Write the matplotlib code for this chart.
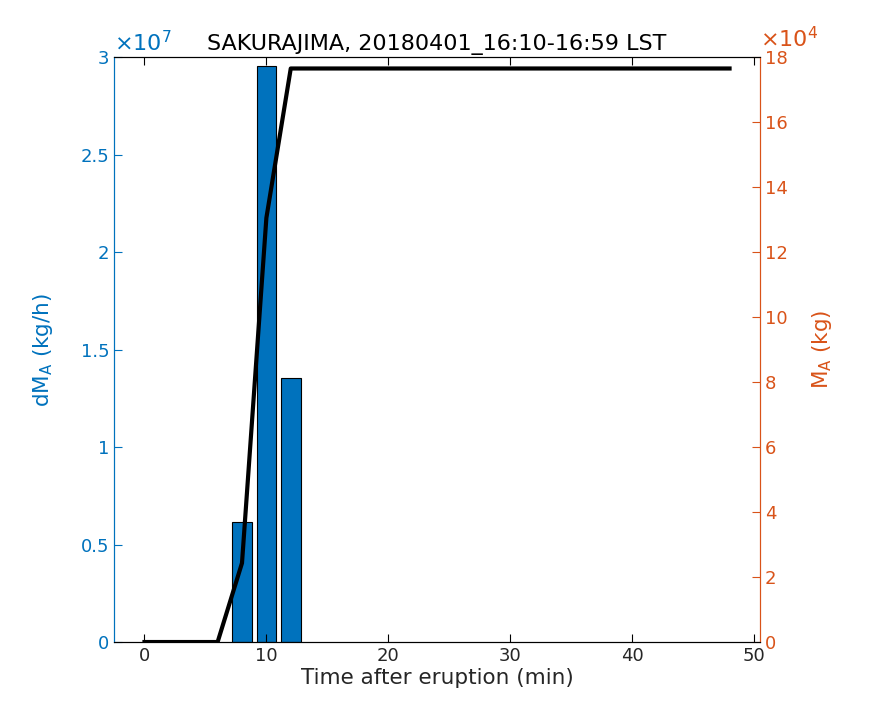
import matplotlib
matplotlib.use("Agg")
import matplotlib.pyplot as plt

plt.rcParams['font.family'] = ['DejaVu Sans']
plt.rcParams['mathtext.fontset'] = 'dejavusans'
plt.rcParams['mathtext.default'] = 'regular'

# data
bar_time = [8, 10, 12]
bar_rate = [0.615e7, 2.954e7, 1.355e7]          # dM_A (kg/h)
cum_time = [0, 2, 4, 6, 8, 10, 12, 14, 16, 18, 20, 22, 24, 26, 28, 30,
            32, 34, 36, 38, 40, 42, 44, 46, 48]
cum_mass = [0, 0, 0, 0, 2.43e4, 13.05e4, 17.65e4, 17.65e4, 17.65e4, 17.65e4,
            17.65e4, 17.65e4, 17.65e4, 17.65e4, 17.65e4, 17.65e4, 17.65e4,
            17.65e4, 17.65e4, 17.65e4, 17.65e4, 17.65e4, 17.65e4, 17.65e4, 17.65e4]

blue = '#0072BD'
orange = '#D95319'

fig = plt.figure(figsize=(8.75, 7.23), dpi=100)
ax = fig.add_axes([0.1303, 0.112, 0.7383, 0.809])
ax2 = ax.twinx()

ax.bar(bar_time, bar_rate, width=1.6, color=blue, edgecolor='black', linewidth=0.8)
ax2.plot(cum_time, cum_mass, color='black', linewidth=3)

ax.set_xlim(-2.5, 50.5)
ax.set_ylim(0, 3e7)
ax2.set_ylim(0, 18e4)
ax.set_xticks([0, 10, 20, 30, 40, 50])
ax.set_yticks([0, 0.5e7, 1e7, 1.5e7, 2e7, 2.5e7, 3e7])
ax.set_yticklabels(['0', '0.5', '1', '1.5', '2', '2.5', '3'])
ax2.set_yticks(range(0, 180001, 20000))
ax2.set_yticklabels([str(v) for v in range(0, 19, 2)])

ax.tick_params(axis='x', direction='in', top=True, labelsize=13, length=6, color='black',
               labelcolor='#262626')
ax.tick_params(axis='y', direction='in', labelsize=13, length=6, colors=blue)
ax2.tick_params(axis='y', direction='in', labelsize=13, length=6, colors=orange)

for a in (ax, ax2):
    a.spines['left'].set_color(blue)
    a.spines['right'].set_color(orange)
    a.spines['top'].set_color('black')
    a.spines['bottom'].set_color('black')

ax.set_xlabel('Time after eruption (min)', fontsize=15.5, color='#262626', labelpad=2)
ax.set_ylabel('dM$_A$ (kg/h)', fontsize=15.5, color=blue, labelpad=18)
ax2.set_ylabel('M$_A$ (kg)', fontsize=15.5, color=orange, rotation=90, labelpad=16)
ax.set_title('SAKURAJIMA, 20180401_16:10-16:59 LST', fontsize=16, pad=5)

ax.text(0.0, 1.004, r'$\times$10$^7$', transform=ax.transAxes, color=blue,
        fontsize=16, ha='left', va='bottom')
ax2.text(1.0, 1.01, r'$\times$10$^4$', transform=ax2.transAxes, color=orange,
         fontsize=16, ha='left', va='bottom')

fig.savefig('out.png', dpi=100)
